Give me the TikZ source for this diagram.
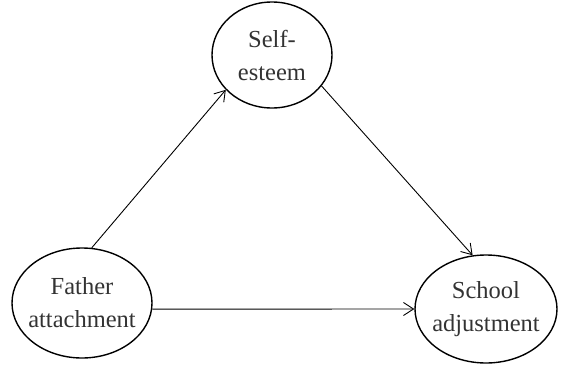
\documentclass[tikz,border=0pt]{standalone}
\usepackage{fontspec}
\setmainfont{Liberation Serif}
\usetikzlibrary{shapes.geometric,arrows.meta}
\definecolor{darktext}{HTML}{333333}

\tikzset{
  varnode/.style={ellipse, draw=black, line width=1.4pt, inner sep=0pt},
  varlabel/.style={align=center, text=darktext, inner sep=0pt,
    font=\fontsize{24.5}{33}\selectfont},
  path/.style={draw=black, line width=0.9pt, -{Straight Barb[length=10pt,width=13pt]}}
}

\begin{document}
\begin{tikzpicture}[x=1pt,y=-1pt]
\useasboundingbox (0,0) rectangle (562,364);
% variables
\node[varnode, minimum width=120pt, minimum height=106pt,
  label={[varlabel]center:Self-\\esteem}] (self) at (272,55) {};
\node[varnode, minimum width=140pt, minimum height=110pt,
  label={[varlabel]center:Father\\attachment}] (father) at (82,303) {};
\node[varnode, minimum width=142pt, minimum height=108pt,
  label={[varlabel]center:School\\adjustment}] (school) at (486,309) {};
% paths
\draw[path] (father.80) -- (self.217);
\draw[path] (self.328) -- (school.104);
\draw[path] (father.-5) -- (school.west);
\end{tikzpicture}
\end{document}
